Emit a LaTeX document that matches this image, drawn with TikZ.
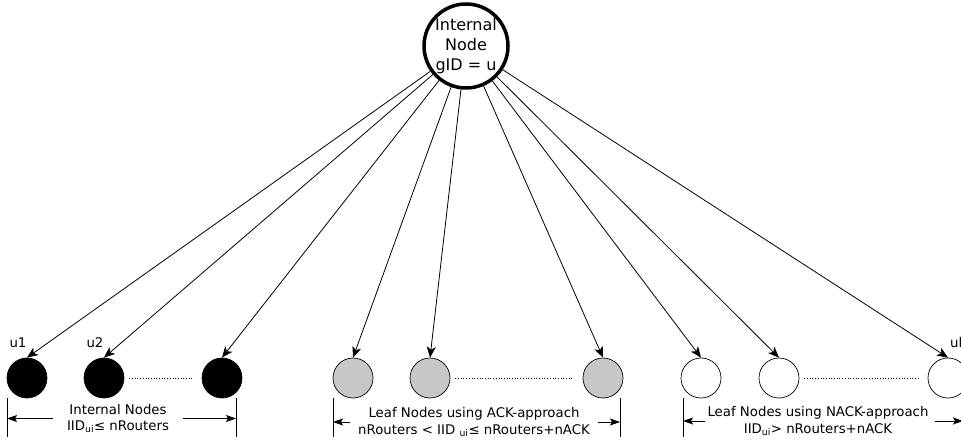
\documentclass[tikz,border=0pt]{standalone}
\usepackage{fontspec}
\setmainfont{DejaVu Sans}
\usetikzlibrary{arrows.meta}
\tikzset{
  member/.style={circle,draw,minimum size=40pt,inner sep=0pt,line width=0.7pt},
  internalnode/.style={member,fill=black},
  acknode/.style={member,fill=black!22},
  nacknode/.style={member,fill=white},
  link/.style={-{Stealth[length=11pt,width=9pt,inset=3pt]},line width=0.8pt},
  dimarrow/.style={-{Stealth[length=10pt,width=7pt,inset=2pt]},line width=0.8pt},
  gap/.style={dotted,line width=0.7pt,shorten <=5pt,shorten >=9pt},
  grouptext/.style={align=center,inner sep=0pt,font=\fontsize{13.3}{16.5}\selectfont},
  tag/.style={font=\fontsize{13.3}{15}\selectfont}
}

\begin{document}
\begin{tikzpicture}[x=1pt,y=-1pt]
   \useasboundingbox (0,0) rectangle (961,446);
   \clip (0,0) rectangle (961,446);

   % the node on top
   \node[circle,draw,line width=3.5pt,minimum size=84pt,inner sep=0pt,align=center,
         font=\fontsize{16}{20}\selectfont] (root) at (466,46) {Internal\\Node\\gID = u};

   % internal nodes
   \begin{scope}
     \node[internalnode] (b1) at (27,378) {};
     \node[internalnode] (b2) at (104,378) {};
     \node[internalnode] (b3) at (222,378) {};
     \node[tag] (u1) at (18,343) {u1};
     \node[tag] (u2) at (95,343) {u2};
     \draw[gap] (b2) -- (b3);
   \end{scope}

   % leaf nodes, ACK
   \begin{scope}
     \node[acknode] (g1) at (353,378) {};
     \node[acknode] (g2) at (430,378) {};
     \node[acknode] (g3) at (603,378) {};
     \draw[gap] (g2) -- (g3);
   \end{scope}

   % leaf nodes, NACK
   \begin{scope}
     \node[nacknode] (w1) at (701,378) {};
     \node[nacknode] (w2) at (779,378) {};
     \node[nacknode] (w3) at (948,378) {};
     \node[tag,anchor=west,inner sep=0pt] (ul) at (950,343) {ul};
     \draw[gap] (w2) -- (w3);
   \end{scope}

   \foreach \c in {b1,b2,b3,g1,g2,g3,w1,w2,w3}
     \draw[link] (root) -- (\c.north);

   % group markers
   \coordinate (iL) at (7,398);
   \coordinate (iR) at (236,398);
   \coordinate (aL) at (333,398);
   \coordinate (aR) at (620,398);
   \coordinate (nL) at (683,398);
   \coordinate (nR) at (963,398);
   \foreach \b in {iL,iR,aL,aR,nL,nR}
     \draw[line width=0.8pt] (\b) -- ++(0,39);

   \node[grouptext] (lblInt) at (118,418.5) {Internal Nodes\\IID\textsubscript{ui}≤ nRouters};
   \node[grouptext] (lblAck) at (474,422) {Leaf Nodes using ACK-approach\\nRouters < IID \textsubscript{ui}≤ nRouters+nACK};
   \node[grouptext] (lblNack) at (818,421) {Leaf Nodes using NACK-approach\\IID\textsubscript{ui}> nRouters+nACK};

   \draw[dimarrow,shorten <=14pt] (lblInt.west) -- (lblInt.west -| iL);
   \draw[dimarrow,shorten <=14pt] (lblInt.east) -- (lblInt.east -| iR);
   \draw[dimarrow,shorten <=8pt] (lblAck.west) -- (lblAck.west -| aL);
   \draw[dimarrow,shorten <=8pt] (lblAck.east) -- (lblAck.east -| aR);
   \draw[dimarrow,shorten <=2pt] (lblNack.west) -- (lblNack.west -| nL);
   \draw[dimarrow,shorten <=6pt] (lblNack.east) -- (lblNack.east -| nR);
\end{tikzpicture}
\end{document}
